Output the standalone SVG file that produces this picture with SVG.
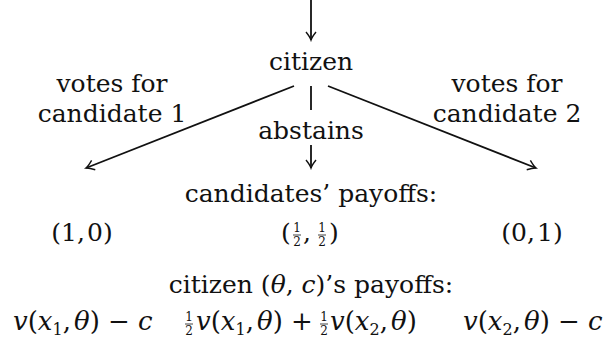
<svg xmlns="http://www.w3.org/2000/svg" width="611" height="344" viewBox="0 0 611 344">
<defs>
<style>
.t{font-family:"DejaVu Serif",serif;font-size:25px;fill:#111;text-anchor:middle}
.s{font-family:"DejaVu Serif",serif;font-size:25px;fill:#111}
.m{font-family:"DejaVu Serif",serif;font-size:26px;fill:#111}
.i{font-style:italic}
.sub{font-size:16px}
.f{font-family:"DejaVu Serif",serif;font-size:12px;fill:#111;text-anchor:middle}
.e{stroke:#111;stroke-width:1.8;fill:none}
.bar{stroke:#111;stroke-width:0.8}
</style>
<marker id="ah" markerWidth="12" markerHeight="12" viewBox="-10 -6 12 12" refX="0" refY="0" orient="auto" markerUnits="userSpaceOnUse">
<path d="M-8,-5 Q-3,-1 0,0 Q-3,1 -8,5" fill="none" stroke="#111" stroke-width="1.4"/>
</marker>
</defs>
<g id="connectors">
<line class="e" x1="311" y1="0" x2="311" y2="40" marker-end="url(#ah)"/>
<line class="e" x1="294" y1="86" x2="86" y2="168" marker-end="url(#ah)"/>
<line class="e" x1="328" y1="86" x2="536" y2="168" marker-end="url(#ah)"/>
<line class="e" x1="311" y1="86" x2="311" y2="110"/>
<line class="e" x1="311" y1="145" x2="311" y2="168" marker-end="url(#ah)"/>
</g>
<g id="citizen"><text class="t" x="311" y="70">citizen</text></g>
<g id="label-vote1"><text class="t" x="112" y="92">votes for</text><text class="t" x="112" y="122">candidate 1</text></g>
<g id="label-vote2"><text class="t" x="507" y="92">votes for</text><text class="t" x="507" y="122">candidate 2</text></g>
<g id="label-abstain"><text class="t" x="311" y="139">abstains</text></g>
<g id="candidates-payoffs">
<text class="t" x="311" y="202">candidates’ payoffs:</text>
<text class="t" x="82" y="241">(1,<tspan dx="2">0</tspan>)</text>
<text class="s" x="281" y="241">(</text>
<text class="f" x="297" y="232">1</text><line class="bar" x1="293" y1="235" x2="301" y2="235"/><text class="f" x="297" y="246">2</text>
<text class="s" x="303" y="241">,</text>
<text class="f" x="322" y="232">1</text><line class="bar" x1="318" y1="235" x2="326" y2="235"/><text class="f" x="322" y="246">2</text>
<text class="s" x="329" y="241">)</text>
<text class="t" x="532" y="241">(0,<tspan dx="2">1</tspan>)</text>
</g>
<g id="citizen-payoffs">
<text class="t" x="311" y="293">citizen (<tspan class="i">θ</tspan>, <tspan class="i">c</tspan>)’s payoffs:</text>
<text class="m" x="13" y="330"><tspan class="i">v</tspan>(<tspan class="i">x</tspan><tspan class="sub" dy="5">1</tspan><tspan dy="-5">,</tspan><tspan class="i" dx="3">θ</tspan>) − <tspan class="i">c</tspan></text>
<text class="f" x="189" y="321">1</text><line class="bar" x1="185" y1="324" x2="193" y2="324"/><text class="f" x="189" y="335">2</text>
<text class="m" x="196" y="330"><tspan class="i">v</tspan>(<tspan class="i">x</tspan><tspan class="sub" dy="5">1</tspan><tspan dy="-5">,</tspan><tspan class="i" dx="3">θ</tspan>) +</text>
<text class="f" x="324" y="321">1</text><line class="bar" x1="320" y1="324" x2="328" y2="324"/><text class="f" x="324" y="335">2</text>
<text class="m" x="330" y="330"><tspan class="i">v</tspan>(<tspan class="i">x</tspan><tspan class="sub" dy="5">2</tspan><tspan dy="-5">,</tspan><tspan class="i" dx="3">θ</tspan>)</text>
<text class="m" x="463" y="330"><tspan class="i">v</tspan>(<tspan class="i">x</tspan><tspan class="sub" dy="5">2</tspan><tspan dy="-5">,</tspan><tspan class="i" dx="3">θ</tspan>) − <tspan class="i">c</tspan></text>
</g>
</svg>
